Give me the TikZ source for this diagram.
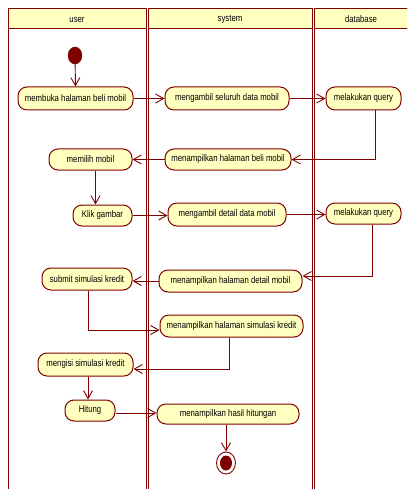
\documentclass[tikz,border=0pt]{standalone}
\usepackage{fontspec}
\setmainfont{Liberation Sans}[FakeStretch=0.81]
\usetikzlibrary{arrows.meta,shapes.geometric}
\definecolor{maroon}{HTML}{800000}
\definecolor{pale}{HTML}{FFFFC0}
\begin{document}
\begin{tikzpicture}[x=1pt,y=-1pt,
  lane/.style={draw=maroon,line width=1pt},
  lanehead/.style={draw=maroon,fill=pale,line width=1pt},
  act/.style={draw=maroon,fill=pale,rounded corners=9pt,line width=1pt,inner sep=0pt,font=\fontsize{9.6}{11}\selectfont,minimum height=22pt},
  arr/.style={draw=maroon,line width=0.9pt,-{Straight Barb[length=8pt,width=9pt,line width=0.9pt]}},
  headtext/.style={font=\fontsize{9.6}{11}\selectfont,inner sep=0pt}]
\useasboundingbox (0,0) rectangle (407,489);
% lanes
\begin{scope}
\clip (0,0) rectangle (407,489);
\draw[lane] (8,9) rectangle (146,495);
\draw[lanehead] (8,9) rectangle (146,29);
\draw[lane] (148,9) rectangle (312,495);
\draw[lanehead] (148,9) rectangle (312,29);
\draw[lane] (314,9) rectangle (412,495);
\draw[lanehead] (314,9) rectangle (412,29);
\end{scope}
\node[headtext] (hu) at (77,19.5) {user};
\node[headtext] (hs) at (230,19.5) {system};
\node[headtext] (hd) at (361,19.5) {database};
% nodes
\node[ellipse,fill=maroon,draw=maroon,minimum width=14pt,minimum height=17pt,inner sep=0pt] (init) at (75,55.5) {};
\node[act,minimum width=115pt,minimum height=23pt] (a1) at (75.5,98.5) {membuka halaman beli mobil};
\node[act,minimum width=124pt,minimum height=23pt] (s1) at (227,98.5) {mengambil seluruh data mobil};
\node[act,minimum width=75pt,minimum height=23pt] (d1) at (363.5,98.5) {melakukan query};
\node[act,minimum width=83pt,minimum height=21pt] (u2) at (90.5,159.5) {memilih mobil};
\node[act,minimum width=126pt,minimum height=21pt] (s2) at (228,159.5) {menampilkan halaman beli mobil};
\node[act,minimum width=59pt,minimum height=21pt] (u3) at (102.5,215.5) {Klik gambar};
\node[act,minimum width=118pt,minimum height=23pt] (s3) at (227,214.5) {mengambil detail data mobil};
\node[act,minimum width=75pt,minimum height=21pt] (d2) at (363.5,213.5) {melakukan query};
\node[act,minimum width=143pt,minimum height=22pt] (s4) at (230.5,281) {menampilkan halaman detail mobil};
\node[act,minimum width=90pt,minimum height=22pt] (u4) at (87,279) {submit simulasi kredit};
\node[act,minimum width=143pt,minimum height=22pt] (s5) at (231.5,326) {menampilkan halaman simulasi kredit};
\node[act,minimum width=95pt,minimum height=23pt] (u5) at (85.5,364.5) {mengisi simulasi kredit};
\node[act,minimum width=50pt,minimum height=21pt] (u6) at (90,410.5) {Hitung};
\node[act,minimum width=142pt,minimum height=20pt] (s6) at (228,414) {menampilkan hasil hitungan};
\node[ellipse,draw=maroon,fill=white,line width=0.9pt,minimum width=19pt,minimum height=22pt,inner sep=0pt] (final) at (226,463) {};
\node[ellipse,fill=maroon,minimum width=12pt,minimum height=15pt,inner sep=0pt] (finalin) at (226,463) {};
% connectors
\draw[arr] (init) -- (a1.north);
\draw[arr] (a1.east) -- (s1.west);
\draw[arr] (s1.east) -- (d1.west);
\draw[arr] ([xshift=12pt]d1.south) |- (s2.east);
\draw[arr] (s2.west) -- (u2.east);
\draw[arr] ([xshift=5pt]u2.south) -- ([xshift=5pt]u2.south |- u3.north);
\draw[arr] (u3.east) -- (u3.east -| s3.west);
\draw[arr] (s3.east) -- (s3.east -| d2.west);
\draw[arr] ([xshift=8.5pt]d2.south) |- ([yshift=5pt]s4.east);
\draw[arr] (s4.west) -- (s4.west -| u4.east);
\draw[arr] ([xshift=1pt]u4.south) |- ([yshift=-4pt]s5.west);
\draw[arr] ([xshift=-2.5pt]s5.south) |- ([yshift=-4.5pt]u5.east);
\draw[arr] ([xshift=2.5pt]u5.south) -- ([xshift=2.5pt]u5.south |- u6.north);
\draw[arr] ([yshift=-2.5pt]u6.east) -- ([yshift=-2.5pt]u6.east -| s6.west);
\draw[arr] ([xshift=-2pt]s6.south) -- (final.north);
\end{tikzpicture}
\end{document}
